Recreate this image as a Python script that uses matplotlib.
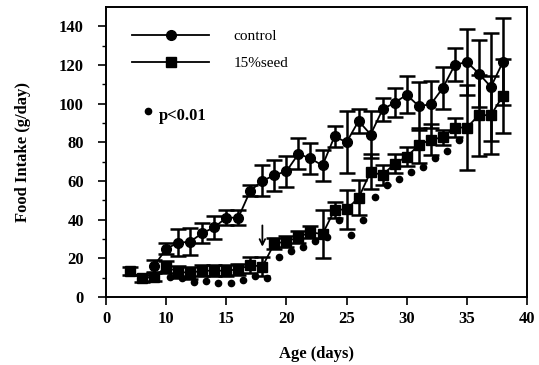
import numpy as np
import matplotlib
matplotlib.use('Agg')
import matplotlib.pyplot as plt
from matplotlib.lines import Line2D

# food intake (g/day)
ctrl_days = list(range(9, 39))
ctrl_mean = [16, 25, 28, 28.6, 33, 36, 41, 41, 55, 60, 63, 65, 74, 71.6, 68,
             83, 80, 91, 84, 97, 100.5, 104.5, 98.7, 99.6, 108, 120, 121.5,
             115.5, 108.6, 121.5]
ctrl_err = [3, 3, 7, 7, 5, 6, 4, 4, 3, 8, 8, 8, 8, 8, 8,
            5.5, 16, 6, 12, 6, 7.5, 9.5, 12.5, 12, 11, 8.5, 17,
            17.5, 28, 22.5]

seed_days = list(range(7, 39))
seed_mean = [13.5, 9.6, 10.5, 15.5, 13, 12.5, 13.6, 13.6, 13.6, 14.3, 16.5,
             15.7, 27.7, 28.6, 31, 33.5, 32.5, 45, 45.3, 51.3, 64.7, 63, 69,
             72.5, 78.5, 81.4, 82.5, 87.6, 87.6, 94, 94, 104]
seed_err = [2, 2, 2, 3, 3, 3, 3, 3, 3, 3, 4, 5, 3, 3, 3, 3, 12.5, 4, 10, 9,
            9, 5, 5, 5, 9, 8, 4, 5, 22, 21, 20, 19]

# p<0.01 markers
star_days = list(range(10, 35))
star_vals = [10.5, 9.6, 8, 8.4, 7, 7.4, 8.8, 10.8, 9.6, 20.5, 24, 26, 29, 31,
             40, 32, 40, 51.5, 58, 61, 64.7, 67.3, 71.6, 75.6, 81.4]

xticks = [5, 10, 15, 20, 25, 30, 35, 40]
xtick_labels = ['0', '10', '15', '20', '25', '30', '35', '40']
yticks = [0, 20, 40, 60, 80, 100, 120, 140]

serif = 'Liberation Serif'

fig = plt.figure(figsize=(5.39, 3.65), dpi=100)
ax = fig.add_axes([0.1967, 0.1863, 0.781, 0.795])

ax.errorbar(ctrl_days, ctrl_mean, yerr=ctrl_err, color='black', marker='o',
            markersize=7, lw=1.3, elinewidth=1.8, capsize=6, capthick=1.8)
ax.errorbar(seed_days, seed_mean, yerr=seed_err, color='black', marker='s',
            markersize=6.5, lw=1.3, elinewidth=1.8, capsize=6, capthick=1.8)
ax.plot(np.array(star_days) + 0.35, star_vals, 'o', color='black',
        markersize=4.5, ls='none')

# arrow at day 18
ax.annotate('', xy=(18, 26), xytext=(18, 37),
            arrowprops=dict(arrowstyle='->', color='black', lw=1.3,
                            mutation_scale=10, shrinkA=0, shrinkB=0))

ax.set_xlim(5, 40)
ax.set_ylim(0, 150)
ax.set_xticks(xticks)
ax.set_xticklabels(xtick_labels)
ax.set_yticks(yticks)
ax.set_yticks(range(10, 150, 20), minor=True)

ax.tick_params(axis='y', which='major', direction='out', length=6, width=1.2,
               pad=10)
ax.tick_params(axis='y', which='minor', direction='out', length=3, width=1.0)
ax.tick_params(axis='x', which='major', direction='out', length=6, width=1.2,
               pad=4)
for lab in ax.get_xticklabels() + ax.get_yticklabels():
    lab.set_fontfamily(serif)
    lab.set_fontweight('bold')
    lab.set_fontsize(12)
for sp in ax.spines.values():
    sp.set_linewidth(1.4)

ax.set_xlabel('Age (days)', fontfamily=serif, fontweight='bold',
              fontsize=12, labelpad=14)
ax.set_ylabel('Food Intake (g/day)', fontfamily=serif, fontweight='bold',
              fontsize=12, labelpad=20)

handles = [Line2D([], [], color='black', marker='o', markersize=7, lw=1.3),
           Line2D([], [], color='black', marker='s', markersize=6.5, lw=1.3)]
ax.legend(handles, ['control', '15%seed'], loc='upper left',
          bbox_to_anchor=(0.03, 0.97), frameon=False,
          prop={'family': serif, 'size': 11}, handlelength=5.0,
          handletextpad=1.6, labelspacing=0.9)

ax.plot([0.1], [0.64], 'o', color='black', markersize=4.5,
        transform=ax.transAxes)
ax.text(0.125, 0.625, 'p<0.01', transform=ax.transAxes, fontfamily=serif,
        fontweight='bold', fontsize=12, va='center')

fig.savefig('out.png', dpi=100)
